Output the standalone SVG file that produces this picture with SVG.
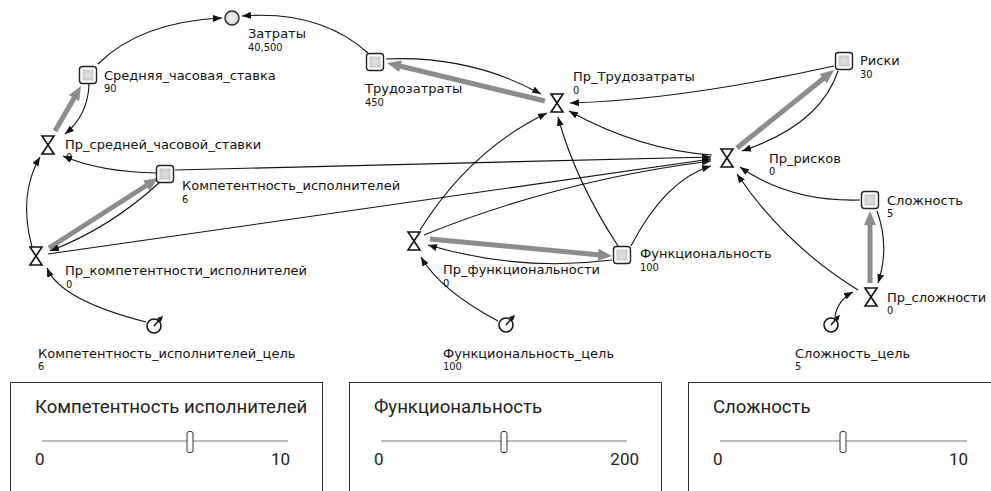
<svg xmlns="http://www.w3.org/2000/svg" width="991" height="491" viewBox="0 0 991 491">
<defs>
<style>
.nm{font-family:"DejaVu Sans",Verdana,sans-serif;font-size:13px;fill:#111}
.vl{font-family:"DejaVu Sans Condensed","DejaVu Sans",sans-serif;font-size:11px;fill:#111}
.lk{fill:none;stroke:#111;stroke-width:1.1;marker-end:url(#ah)}
.th{fill:none;stroke:#8c8c8c;stroke-width:5;marker-end:url(#th)}
.stk{fill:#fff;stroke:#222;stroke-width:1.4}
.stki{fill:url(#sg)}
.flw{fill:#fff;stroke:#111;stroke-width:1.6;stroke-linejoin:miter}
.gl{fill:#fff;stroke:#111;stroke-width:1.6}
.box{fill:#fff;stroke:#333;stroke-width:1}
.st{font-family:Roboto,"Liberation Sans",sans-serif;font-size:18.6px;fill:#222}
.sn{font-family:Roboto,"Liberation Sans",sans-serif;font-size:17px;fill:#222}
.sl{stroke:#7a7a7a;stroke-width:1.2}
.thumb{fill:#fff;stroke:#333;stroke-width:1}
</style>
<radialGradient id="sg" cx="0.5" cy="0.5" r="0.6">
<stop offset="0" stop-color="#e4e4e4"/>
<stop offset="1" stop-color="#c8c8c8"/>
</radialGradient>
<radialGradient id="cg" cx="0.5" cy="0.5" r="0.6">
<stop offset="0" stop-color="#f2f2f2"/>
<stop offset="1" stop-color="#d0d0d0"/>
</radialGradient>
<marker id="ah" markerUnits="userSpaceOnUse" markerWidth="9" markerHeight="7" refX="9" refY="3.5" orient="auto">
<path d="M0,0 L9,3.5 L0,7 z" fill="#111"/>
</marker>
<marker id="th" markerUnits="userSpaceOnUse" markerWidth="14" markerHeight="12" refX="2" refY="6" orient="auto">
<path d="M0,0 L14,6 L0,12 z" fill="#8c8c8c"/>
</marker>
</defs>
<rect width="991" height="491" fill="#fff"/>

<g id="connectors">
<path class="th" d="M55,131 L75,96.4"/>
<path class="th" d="M49,248 L147.9,184.5"/>
<path class="th" d="M545,101 L398.7,65.8"/>
<path class="th" d="M737,148 L824.7,77.5"/>
<path class="th" d="M430,239 L600,254.9"/>
<path class="th" d="M870,283 L870,223"/>

<path class="lk" d="M98,64 Q140,22 222,18"/>
<path class="lk" d="M368,53 Q320,10 242,16"/>
<path class="lk" d="M89,84 Q88,115 65,134"/>
<path class="lk" d="M157,173 Q100,172 63,156"/>
<path class="lk" d="M175,170 L711,157"/>
<path class="lk" d="M32,247 Q18,195 40,157"/>
<path class="lk" d="M160,182 Q110,228 50,251"/>
<path class="lk" d="M48,254 L711,159"/>
<path class="lk" d="M631,246 Q665,180 711,166"/>
<path class="lk" d="M618,246 Q575,180 558,117"/>
<path class="lk" d="M420,230 Q470,150 547,113"/>
<path class="lk" d="M834,66 Q680,100 570,103"/>
<path class="lk" d="M712,155 Q640,150 569,111"/>
<path class="lk" d="M838,71 Q820,125 742,151"/>
<path class="lk" d="M860,200 Q790,202 740,167"/>
<path class="lk" d="M858,290 Q785,245 737,174"/>
<path class="lk" d="M877,211 Q890,247 878,283"/>
<path class="lk" d="M835,316 Q838,300 853,292"/>
<path class="lk" d="M498,321 Q440,290 421,257"/>
<path class="lk" d="M612,260 Q520,272 428,245"/>
<path class="lk" d="M424,235 Q560,180 711,161"/>
<path class="lk" d="M146,322 Q60,300 47,268"/>
<path class="lk" d="M386,59 Q470,55 541,94"/>
</g>

<g id="zatraty">
<circle cx="232" cy="18" r="7" fill="url(#cg)" stroke="#222" stroke-width="1.4"/>
<text class="nm" x="248" y="38">Затраты</text>
<text class="vl" x="248" y="51">40,500</text>
</g>

<g id="srednyaya_stavka">
<rect class="stk" x="79.5" y="66.5" width="17" height="17" rx="3"/>
<rect class="stki" x="82.5" y="69.5" width="11" height="11"/>
<text class="nm" x="104" y="80">Средняя_часовая_ставка</text>
<text class="vl" x="104" y="92">90</text>
</g>

<g id="pr_srednej_stavki">
<path class="flw" d="M42,136 H54 L42,154 H54 Z"/>
<text class="nm" x="65" y="149">Пр_средней_часовой_ставки</text>
<text class="vl" x="66" y="161">0</text>
</g>

<g id="kompetentnost">
<rect class="stk" x="156.5" y="165.5" width="17" height="17" rx="3"/>
<rect class="stki" x="159.5" y="168.5" width="11" height="11"/>
<text class="nm" x="182" y="190">Компетентность_исполнителей</text>
<text class="vl" x="182" y="203">6</text>
</g>

<g id="pr_kompetentnosti">
<path class="flw" d="M30,247 H42 L30,265 H42 Z"/>
<text class="nm" x="65" y="275">Пр_компетентности_исполнителей</text>
<text class="vl" x="66" y="288">0</text>
</g>

<g id="kompetentnost_cel">
<circle class="gl" cx="154" cy="326" r="7"/>
<path d="M154,326 L160,319" stroke="#111" stroke-width="1.4"/>
<path d="M157,318 L163,316 L161,322 Z" fill="#111"/>
<text class="nm" x="38" y="358">Компетентность_исполнителей_цель</text>
<text class="vl" x="38" y="370">6</text>
</g>

<g id="trudozatraty">
<rect class="stk" x="366.5" y="53.5" width="17" height="17" rx="3"/>
<rect class="stki" x="369.5" y="56.5" width="11" height="11"/>
<text class="nm" x="365" y="93">Трудозатраты</text>
<text class="vl" x="365" y="106">450</text>
</g>

<g id="pr_trudozatraty">
<path class="flw" d="M551,94 H563 L551,112 H563 Z"/>
<text class="nm" x="573" y="81">Пр_Трудозатраты</text>
<text class="vl" x="573" y="94">0</text>
</g>

<g id="riski">
<rect class="stk" x="835.5" y="52.5" width="17" height="17" rx="3"/>
<rect class="stki" x="838.5" y="55.5" width="11" height="11"/>
<text class="nm" x="860" y="65">Риски</text>
<text class="vl" x="860" y="78">30</text>
</g>

<g id="pr_riskov">
<path class="flw" d="M721,149 H733 L721,167 H733 Z"/>
<text class="nm" x="769" y="163">Пр_рисков</text>
<text class="vl" x="769" y="175">0</text>
</g>

<g id="slozhnost">
<rect class="stk" x="861.5" y="191.5" width="17" height="17" rx="3"/>
<rect class="stki" x="864.5" y="194.5" width="11" height="11"/>
<text class="nm" x="887" y="205">Сложность</text>
<text class="vl" x="887" y="217">5</text>
</g>

<g id="pr_slozhnosti">
<path class="flw" d="M865,288 H877 L865,306 H877 Z"/>
<text class="nm" x="887" y="302">Пр_сложности</text>
<text class="vl" x="887" y="314">0</text>
</g>

<g id="slozhnost_cel">
<circle class="gl" cx="831" cy="325" r="7"/>
<path d="M831,325 L837,318" stroke="#111" stroke-width="1.4"/>
<path d="M834,317 L840,315 L838,321 Z" fill="#111"/>
<text class="nm" x="795" y="358">Сложность_цель</text>
<text class="vl" x="795" y="370">5</text>
</g>

<g id="funkcionalnost">
<rect class="stk" x="613.5" y="246.5" width="17" height="17" rx="3"/>
<rect class="stki" x="616.5" y="249.5" width="11" height="11"/>
<text class="nm" x="640" y="258">Функциональность</text>
<text class="vl" x="640" y="271">100</text>
</g>

<g id="pr_funkcionalnosti">
<path class="flw" d="M408,232 H420 L408,250 H420 Z"/>
<text class="nm" x="443" y="274">Пр_функциональности</text>
<text class="vl" x="443" y="287">0</text>
</g>

<g id="funkcionalnost_cel">
<circle class="gl" cx="506" cy="325" r="7"/>
<path d="M506,325 L512,318" stroke="#111" stroke-width="1.4"/>
<path d="M509,317 L515,315 L513,321 Z" fill="#111"/>
<text class="nm" x="443" y="358">Функциональность_цель</text>
<text class="vl" x="443" y="370">100</text>
</g>

<g id="slider_kompetentnost">
<rect class="box" x="10.5" y="382.5" width="312" height="120"/>
<text class="st" x="35" y="413">Компетентность исполнителей</text>
<line class="sl" x1="42" y1="441" x2="288" y2="441"/>
<rect class="thumb" x="187" y="431.5" width="6" height="21" rx="2"/>
<text class="sn" x="35" y="465">0</text>
<text class="sn" x="290" y="465" text-anchor="end">10</text>
</g>

<g id="slider_funkcionalnost">
<rect class="box" x="349.5" y="382.5" width="312" height="120"/>
<text class="st" x="374" y="413">Функциональность</text>
<line class="sl" x1="381" y1="441" x2="627" y2="441"/>
<rect class="thumb" x="501" y="431.5" width="6" height="21" rx="2"/>
<text class="sn" x="374" y="465">0</text>
<text class="sn" x="639" y="465" text-anchor="end">200</text>
</g>

<g id="slider_slozhnost">
<rect class="box" x="688.5" y="382.5" width="320" height="120"/>
<text class="st" x="713" y="413">Сложность</text>
<line class="sl" x1="720" y1="441" x2="967" y2="441"/>
<rect class="thumb" x="840" y="431.5" width="6" height="21" rx="2"/>
<text class="sn" x="713" y="465">0</text>
<text class="sn" x="968" y="465" text-anchor="end">10</text>
</g>
</svg>
